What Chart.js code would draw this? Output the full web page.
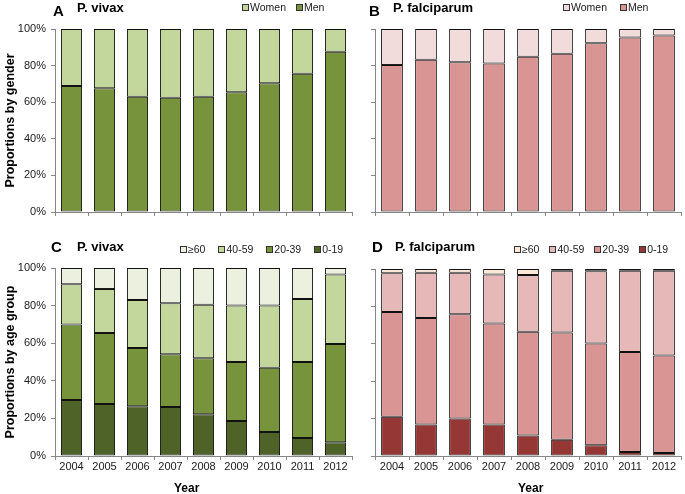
<!DOCTYPE html>
<html>
<head>
<meta charset="utf-8">
<script src="https://cdn.jsdelivr.net/npm/chart.js@4.4.1/dist/chart.umd.min.js"></script>
<style>
  body { margin: 0; background: #fff; font-family: "Liberation Sans", Arial, sans-serif; }
  #wrap { position: relative; width: 685px; height: 494px; overflow: hidden; }
  canvas { position: absolute; }
  .lbl { position: absolute; font-weight: bold; color: #000; line-height: 1; white-space: nowrap; }
  .legend { position: absolute; display: flex; align-items: center; font-size: 10.5px; line-height: 12px; color: #1a1a1a; white-space: nowrap; }
  .legend .item { display: flex; align-items: center; }
  .legend .box { display: inline-block; width: 5px; height: 5px; border: 1px solid #333; margin-right: 1px; }
</style>
</head>
<body>
<div id="wrap">
  <canvas id="chartA" width="355" height="225" style="left:0;top:0"></canvas>
  <canvas id="chartB" width="345" height="225" style="left:340px;top:0"></canvas>
  <canvas id="chartC" width="355" height="269" style="left:0;top:225px"></canvas>
  <canvas id="chartD" width="345" height="269" style="left:340px;top:225px"></canvas>

  <div class="lbl" style="left:53px;top:3px;font-size:15px">A</div>
  <div class="lbl" style="left:77px;top:1px;font-size:13px">P. vivax</div>
  <div class="lbl" style="left:369px;top:3px;font-size:15px">B</div>
  <div class="lbl" style="left:393px;top:1px;font-size:13px">P. falciparum</div>
  <div class="lbl" style="left:51px;top:239px;font-size:15px">C</div>
  <div class="lbl" style="left:77px;top:240px;font-size:13px">P. vivax</div>
  <div class="lbl" style="left:372px;top:239px;font-size:15px">D</div>
  <div class="lbl" style="left:395px;top:240px;font-size:13px">P. falciparum</div>

  <div class="lbl" style="left:174px;top:482px;font-size:12px">Year</div>
  <div class="lbl" style="left:518px;top:482px;font-size:12px">Year</div>

  <div class="legend" id="legA" style="left:242px;top:1px"></div>
  <div class="legend" id="legB" style="left:563px;top:1px"></div>
  <div class="legend" id="legC" style="left:180px;top:243px"></div>
  <div class="legend" id="legD" style="left:514px;top:243px"></div>
</div>

<script>
// data (percent)
const years = ['2004', '2005', '2006', '2007', '2008', '2009', '2010', '2011', '2012'];
const yTicks = [0, 20, 40, 60, 80, 100];

// A: P. vivax by gender
const vivaxMen   = [68.9, 67.6, 63.0, 62.5, 63.0, 65.4, 70.3, 75.6, 87.6];
const vivaxWomen = [31.1, 32.4, 37.0, 37.5, 37.0, 34.6, 29.7, 24.4, 12.4];

// B: P. falciparum by gender
const falcMen   = [80.3, 83.2, 81.8, 81.2, 84.9, 86.5, 92.2, 95.4, 96.4];
const falcWomen = [19.7, 16.8, 18.2, 18.8, 15.1, 13.5, 7.8, 4.6, 3.6];

// C: P. vivax by age group
const vivax0to19  = [29.8, 27.7, 26.4, 26.1, 22.2, 18.6, 12.8, 9.6, 7.3];
const vivax20to39 = [40.2, 37.7, 31.0, 28.0, 29.8, 31.4, 34.2, 40.4, 52.3];
const vivax40to59 = [21.3, 23.4, 25.6, 27.1, 28.5, 30.0, 33.0, 33.5, 37.0];
const vivax60plus = [8.7, 11.2, 17.0, 18.8, 19.5, 20.0, 20.0, 16.5, 3.4];

// D: P. falciparum by age group
const falc0to19  = [21.0, 16.8, 20.0, 16.8, 10.9, 8.7, 5.7, 2.1, 1.6];
const falc20to39 = [56.0, 57.0, 55.8, 54.0, 55.6, 57.3, 54.5, 53.5, 52.2];
const falc40to59 = [20.7, 24.2, 22.2, 26.3, 30.3, 33.1, 38.6, 43.5, 45.2];
const falc60plus = [2.3, 2.0, 2.0, 2.9, 3.2, 0.9, 1.2, 0.9, 1.0];

const axisGray = '#868686';
const barEdge = '#111';

function ds(label, data, color) {
    return {
        label: label,
        data: data,
        backgroundColor: color,
        borderColor: barEdge,
        borderWidth: 1,
        borderSkipped: false,
        barPercentage: 0.64,
        categoryPercentage: 1
    };
}

function makeChart(id, datasets, cfg) {
    return new Chart(document.getElementById(id), {
        type: 'bar',
        data: { labels: years, datasets: datasets },
        options: {
            responsive: false,
            animation: false,
            layout: { padding: { top: cfg.padTop, right: cfg.padRight, left: 0, bottom: 0 } },
            plugins: { legend: { display: false }, tooltip: { enabled: false } },
            scales: {
                x: {
                    stacked: true,
                    border: { color: axisGray, width: 1 },
                    grid: { drawOnChartArea: false, drawTicks: true, tickLength: 4, color: axisGray, offset: true },
                    ticks: {
                        display: cfg.xLabels,
                        padding: 0,
                        color: '#1a1a1a',
                        font: { family: 'Liberation Sans', size: 11 }
                    },
                    afterFit: s => { s.height = cfg.xHeight; }
                },
                y: {
                    stacked: true,
                    min: 0,
                    max: 100,
                    afterBuildTicks: s => { s.ticks = yTicks.map(v => ({ value: v })); },
                    border: { color: axisGray, width: 1 },
                    grid: { drawOnChartArea: false, drawTicks: true, tickLength: 4, color: axisGray },
                    ticks: {
                        display: cfg.yLabels,
                        padding: 5,
                        color: '#1a1a1a',
                        font: { family: 'Liberation Sans', size: 11 },
                        callback: v => v + '%'
                    },
                    title: {
                        display: !!cfg.yTitle,
                        text: cfg.yTitle || '',
                        color: '#000',
                        font: { family: 'Liberation Sans', size: 12.5, weight: 'bold' },
                        padding: { top: 3, bottom: 2 }
                    },
                    afterFit: s => { s.width = cfg.yWidth; }
                }
            }
        }
    });
}

// stacking order: first dataset at the bottom
const chartA = makeChart('chartA', [
    ds('Men', vivaxMen, '#77933c'),
    ds('Women', vivaxWomen, '#c3d69b')
], { padTop: 29, padRight: 3, yWidth: 55, xHeight: 13, yLabels: true, xLabels: false, yTitle: 'Proportions by gender' });

const chartB = makeChart('chartB', [
    ds('Men', falcMen, '#d99594'),
    ds('Women', falcWomen, '#f2dcdb')
], { padTop: 29, padRight: 4, yWidth: 35, xHeight: 13, yLabels: false, xLabels: false });

const chartC = makeChart('chartC', [
    ds('0-19', vivax0to19, '#4f6228'),
    ds('20-39', vivax20to39, '#77933c'),
    ds('40-59', vivax40to59, '#c3d69b'),
    ds('≥60', vivax60plus, '#ebf1de')
], { padTop: 43, padRight: 3, yWidth: 55, xHeight: 38, yLabels: true, xLabels: true, yTitle: 'Proportions by age group' });

const chartD = makeChart('chartD', [
    ds('0-19', falc0to19, '#953735'),
    ds('20-39', falc20to39, '#d99594'),
    ds('40-59', falc40to59, '#e6b9b8'),
    ds('≥60', falc60plus, '#fde9d9')
], { padTop: 44, padRight: 4, yWidth: 35, xHeight: 38, yLabels: false, xLabels: true });

// legends, top series first like the original
function fillLegend(elId, chart, gap) {
    const el = document.getElementById(elId);
    const sets = chart.data.datasets.slice().reverse();
    sets.forEach((d, i) => {
        const item = document.createElement('span');
        item.className = 'item';
        if (i < sets.length - 1) item.style.marginRight = gap + 'px';
        const box = document.createElement('span');
        box.className = 'box';
        box.style.background = d.backgroundColor;
        item.appendChild(box);
        item.appendChild(document.createTextNode(d.label));
        el.appendChild(item);
    });
}
fillLegend('legA', chartA, 10);
fillLegend('legB', chartB, 13);
fillLegend('legC', chartC, 13);
fillLegend('legD', chartD, 10);
</script>
</body>
</html>
